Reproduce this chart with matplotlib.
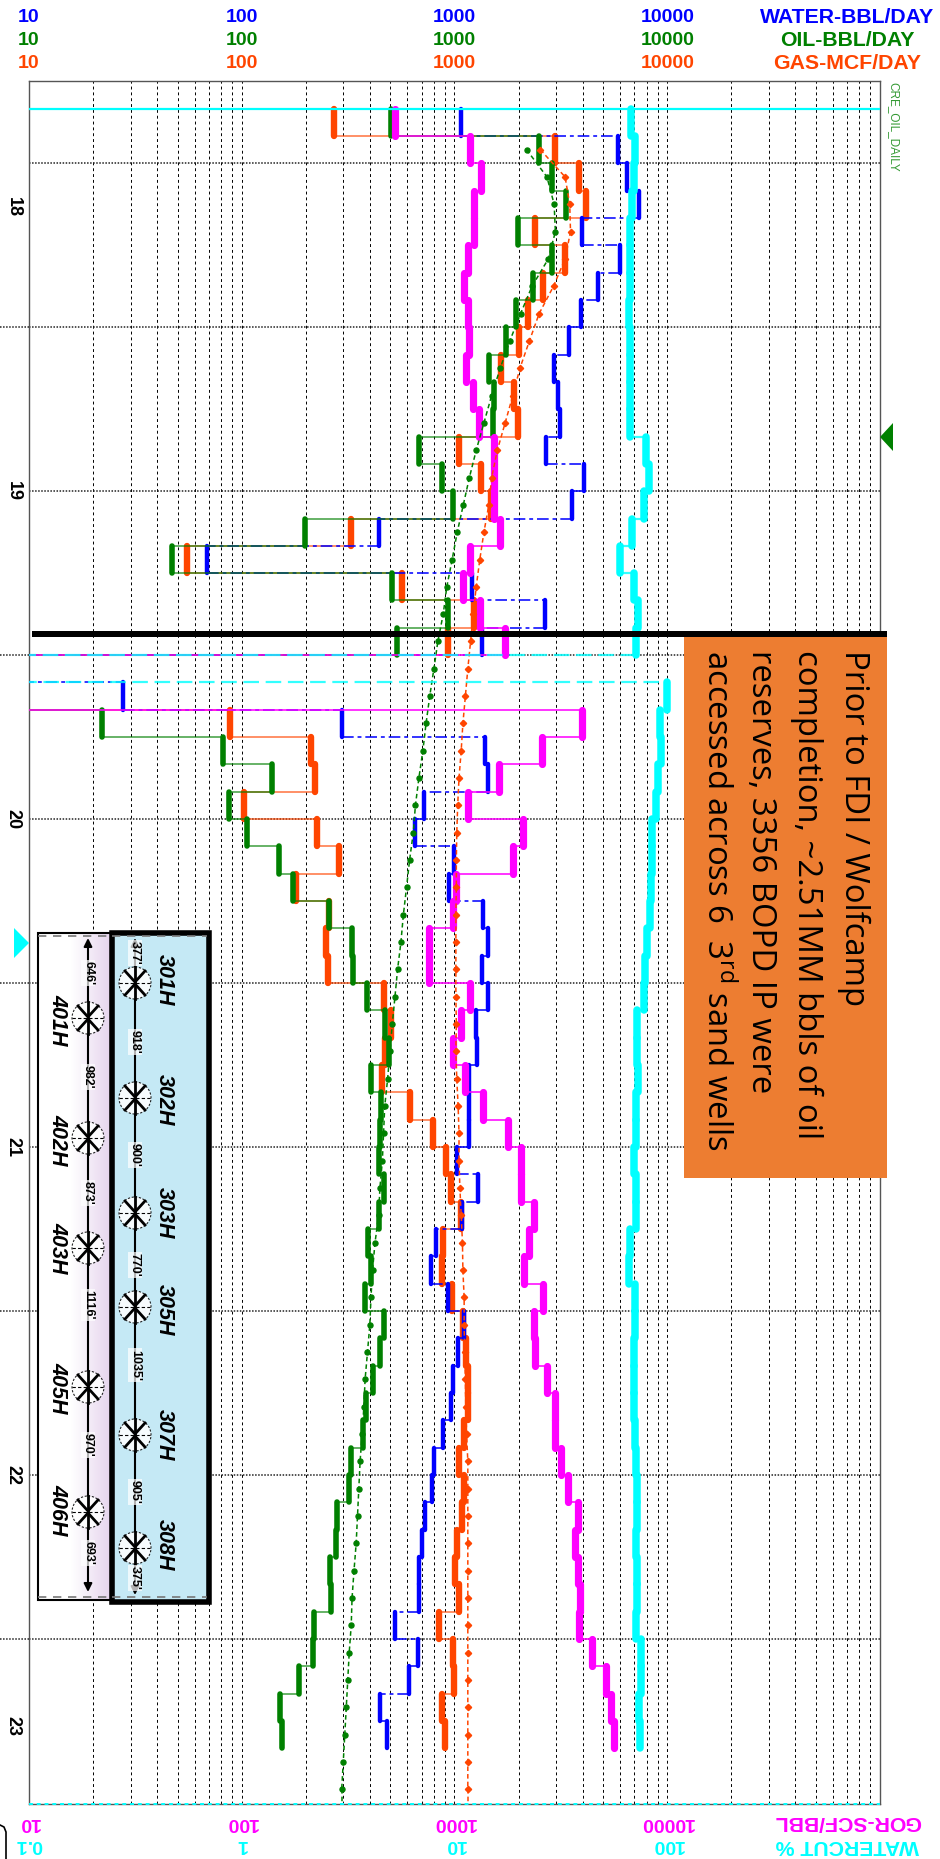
import matplotlib
matplotlib.use('Agg')
import matplotlib.pyplot as plt
import matplotlib.transforms as mtrans
import numpy as np
from matplotlib.patches import Circle, Rectangle

plt.rcParams['font.family'] = ['Liberation Sans', 'DejaVu Sans']
plt.rcParams['mathtext.default'] = 'regular'

# monthly values, index 0 = Nov 2017. 1 means the month is off the left of the scale
oil = [505, 2490, 2880, 3350, 1990, 2860, 2350, 1940, 1740, 1460, 1540, 1520, 680, 875, 980, 198, 47, 510, 930, 535,
       1, 1, 22, 82, 138, 87, 106, 150, 175, 257, 329, 335, 389, 470, 493, 405, 449, 446, 443, 464,
       440, 394, 405, 378, 464, 446, 416, 382, 370, 327, 318, 280, 278, 260, 263, 218, 216, 185, 152, 154]
gas = [272, 2960, 3850, 4150, 2400, 3310, 2620, 2225, 2010, 1650, 1905, 1980, 1045, 1330, 1490, 327, 55, 568, 1230, 937,
       1, 1, 88, 211, 222, 102, 225, 285, 179, 257, 250, 255, 464, 505, 473, 458, 620, 790, 913, 968,
       1075, 880, 870, 975, 1100, 1130, 1155, 1155, 1110, 1045, 1110, 1080, 1025, 1005, 1050, 845, 985, 995, 870, 905]
water = [1075, 5900, 6500, 7330, 3970, 5970, 4730, 3950, 3460, 2940, 3080, 3120, 2690, 4040, 3550, 443, 69, 1215, 2650, 1350,
         1, 27.6, 295, 1390, 1430, 718, 650, 1000, 945, 1360, 1430, 1340, 1440, 1265, 1270, 1175, 1175, 1175, 1025, 1290,
         1090, 820, 775, 930, 1110, 1040, 985, 960, 885, 800, 780, 730, 700, 680, 680, 525, 675, 610, 446, 482]
gor = [525, 1185, 1330, 1230, 1230, 1160, 1110, 1160, 1170, 1130, 1225, 1305, 1535, 1535, 1535, 1640, 1185, 1095, 1315, 1730,
       1, 1, 3970, 2570, 1610, 1160, 2100, 1890, 1020, 985, 755, 755, 1185, 1075, 985, 1115, 1365, 1780, 2045, 2060,
       2360, 2240, 2125, 2600, 2375, 2390, 2720, 2980, 2980, 3160, 3420, 3820, 3700, 3820, 3890, 3850, 4440, 5150, 5420, 5610]
watercut = [67.5, 70.5, 69.5, 68, 66.5, 67, 66.5, 66, 66.5, 67, 66.5, 67, 79.5, 82, 78, 68.5, 60, 69.5, 73, 71,
            0.01, 99.5, 92.5, 93.5, 90, 88.5, 85, 84.5, 83.5, 83, 80, 78.5, 77.5, 72, 72, 73, 71.5, 71.5, 70, 71.5,
            71.5, 67, 66, 70.5, 70.5, 70, 70, 70, 70.5, 71.5, 72, 72, 71.5, 72, 72, 71.5, 75, 75, 74, 74.5]

# forecast curves, one point per month starting Dec 2017
oil_fc = [2180, 2720, 2940, 2980, 2760, 2315, 2045, 1820, 1640, 1495, 1375, 1265, 1175, 1100, 1030, 975, 920, 885, 835, 800,
          765, 735, 710, 680, 655, 640, 615, 595, 575, 560, 540, 525, 510, 497, 485, 470, 464, 458, 446, 440,
          423, 412, 405, 400, 390, 380, 375, 368, 360, 355, 350, 345, 337, 330, 327, 320, 315, 310, 305, 300, 295]
gas_fc = [2530, 3310, 3480, 3510, 3310, 2920, 2500, 2250, 2030, 1880, 1730, 1590, 1495, 1450, 1375, 1315, 1265, 1225, 1190, 1155,
          1125, 1095, 1075, 1050, 1035, 1025, 1020, 1020, 1015, 1015, 1015, 1015, 1020, 1015, 1025, 1040, 1050, 1050, 1060, 1075,
          1090, 1095, 1110, 1110, 1115, 1125, 1130, 1140, 1155, 1155, 1155, 1155, 1155, 1155, 1155, 1155, 1155, 1155, 1155, 1155, 1155]

top_ticks = [10, 100, 1000, 10000]
cut_ticks = ['0.1', '1', '10', '100']
year_labels = ['18', '19', '20', '21', '22', '23']
year_rows = [3.6, 14, 26, 38, 50, 59.2]
note_lines = ['Prior to FDI / Wolfcamp', 'completion, ~2.51MM bbls of oil', 'reserves, 3356 BOPD IP were',
              'accessed across 6  3$^{rd}$ sand wells']

upper_wells = ['301H', '302H', '303H', '305H', '307H', '308H']
upper_spacing = ["377'", "918'", "900'", "770'", "1035'", "905'", "375'"]
lower_wells = ['401H', '402H', '403H', '405H', '406H']
lower_spacing = ["646'", "982'", "873'", "1116'", "970'", "693'"]

BLUE = '#0000ff'
GREEN = '#008000'
ORANGE = '#ff4500'
MAGENTA = '#ff00ff'
CYAN = '#00ffff'

W, H = 940, 1859
fig = plt.figure(figsize=(W / 100, H / 100), dpi=100)
ax = fig.add_axes([29 / W, 1 - 1804 / H, 851 / W, 1723 / H])
ax.set_xscale('log')
ax.set_xlim(10, 100000)
ax.set_ylim(62.04, -1.01)
ax.xaxis.set_major_locator(matplotlib.ticker.LogLocator(base=10))
ax.xaxis.set_minor_locator(matplotlib.ticker.LogLocator(base=10, subs=range(2, 10), numticks=20))
ax.xaxis.set_minor_formatter(matplotlib.ticker.NullFormatter())
half_years = np.arange(2, 60, 6)
ax.set_yticks(half_years)
ax.tick_params(which='both', length=0, labelbottom=False, labelleft=False)
ax.grid(True, which='both', axis='x', color='black', lw=0.7, ls=(0, (3, 3)), zorder=0)
ax.grid(True, which='major', axis='y', color='#222222', lw=1.1, ls=(0, (1, 1)), zorder=0)
ax.set_axisbelow(True)
for s in ax.spines.values():
    s.set_color('#555555')
    s.set_linewidth(1)


def draw_steps(axis, vals, color, width, z, conn_ls='-', conn_alpha=0.6):
    rows = np.arange(len(vals))
    vals = np.array(vals, dtype=float)
    axis.vlines(vals, rows, rows + 1, color=color, lw=width, zorder=z, capstyle='round')
    axis.hlines(rows[1:], vals[:-1], vals[1:], color=color, lw=1.4, ls=conn_ls, alpha=conn_alpha, zorder=z)


draw_steps(ax, gas, ORANGE, 4.6, 3)
draw_steps(ax, water, BLUE, 3.2, 3.2, conn_ls=(0, (6, 2, 2, 2)), conn_alpha=0.8)
draw_steps(ax, oil, GREEN, 4.0, 3.4)
draw_steps(ax, gor, MAGENTA, 5.2, 3.6, conn_alpha=0.8)

fc_rows = np.arange(1, len(oil_fc) + 1) + 0.5
ax.plot(gas_fc, fc_rows, color=ORANGE, lw=1.1, ls=(0, (3, 2)), marker='D', ms=3.2, zorder=4)
ax.plot(oil_fc, fc_rows, color=GREEN, lw=1.1, ls=(0, (3, 2)), marker='o', ms=3.6, zorder=4)
ax.plot([gas_fc[-1], gas_fc[-1]], [fc_rows[-1], 62.04], color=ORANGE, lw=1.1, ls=(0, (3, 2)), zorder=4)
ax.plot([oil_fc[-1], oil_fc[-1]], [fc_rows[-1], 62.04], color=GREEN, lw=1.1, ls=(0, (3, 2)), zorder=4)

# watercut has its own scale, 0.1 to 1000 %
ax2 = ax.twiny()
ax2.set_xscale('log')
ax2.set_xlim(0.1, 1000)
ax2.set_ylim(62.04, -1.01)
ax2.tick_params(which='both', length=0, labeltop=False)
for s in ax2.spines.values():
    s.set_visible(False)
rows = np.arange(len(watercut))
wc = np.array(watercut)
ax2.vlines(wc, rows, rows + 1, color=CYAN, lw=5.4, capstyle='round', zorder=5)
for i in range(1, len(wc)):
    style = (0, (7, 3)) if min(wc[i - 1], wc[i]) < 0.1 else '-'
    ax2.hlines(i, wc[i - 1], wc[i], color=CYAN, lw=1.6, ls=style, alpha=0.8, zorder=5)
ax2.axhline(0, color=CYAN, lw=1.6, zorder=5)
ax2.axhline(62.04, color=CYAN, lw=1.4, ls=(0, (2, 2)), zorder=5, clip_on=False)

# overlay in picture pixels for labels, note box and the well diagram
ov = fig.add_axes([0, 0, 1, 1])
ov.patch.set_visible(False)
ov.axis('off')
x_pos = mtrans.blended_transform_factory(ax.transData, ov.transData)
y_pos = mtrans.blended_transform_factory(ov.transData, ax.transData)

for row_y, col, name in [(17, BLUE, 'WATER-BBL/DAY'), (40, GREEN, 'OIL-BBL/DAY'), (63, ORANGE, 'GAS-MCF/DAY')]:
    for t in top_ticks:
        ov.text(t, row_y, str(t), transform=x_pos, color=col, fontweight='bold', fontsize=14, ha='center', va='center')
    ov.text(847, row_y, name, color=col, fontweight='bold', fontsize=15.3, ha='center', va='center')
for t, c in zip(top_ticks, cut_ticks):
    ov.text(t, 1822, str(t), transform=x_pos, color=MAGENTA, fontweight='bold', fontsize=14, ha='center', va='center', rotation=180)
    ov.text(t, 1845, c, transform=x_pos, color=CYAN, fontweight='bold', fontsize=14, ha='center', va='center', rotation=180)
ov.text(847, 1822, 'GOR-SCF/BBL', color=MAGENTA, fontweight='bold', fontsize=15.3, ha='center', va='center', rotation=180)
ov.text(847, 1845, 'WATERCUT %', color=CYAN, fontweight='bold', fontsize=15.3, ha='center', va='center', rotation=180)

for lab, r in zip(year_labels, year_rows):
    ov.text(13, r, lab, transform=y_pos, fontweight='bold', fontsize=13, rotation=-90, ha='center', va='center')
for r in half_years[1::2]:
    ov.plot([0, 29], [r, r], transform=y_pos, color='#222222', lw=1.1, ls=(0, (1, 1)))

ov.text(893, 82, 'CRE_OIL_DAILY', color=GREEN, fontsize=8.5, rotation=-90, ha='center', va='top', alpha=0.8)
ov.fill([880, 893, 893], [437, 423, 451], color=GREEN, lw=0)
ov.fill([14, 29, 14], [928, 943, 958], color=CYAN, lw=0)

# note box and the heavy line
ov.add_patch(Rectangle((684, 637), 203, 541, color='#ed7d31', lw=0, zorder=2))
ov.add_patch(Rectangle((32, 631), 855, 6, color='black', lw=0, zorder=3))
for x, line in zip([854, 807, 761, 716], note_lines):
    ov.text(x, 650, line, family='Open Sans', fontsize=23.7, color='black', rotation=-90, ha='center', va='top', zorder=4)

# well diagram
grad = np.ones((1, 80, 3))
fade = np.clip((np.linspace(0, 1, 80) - 0.45) / 0.55, 0, 1)[None, :, None]
grad = grad * (1 - fade) + np.array([0.90, 0.83, 0.93]) * fade
ov.imshow(grad, extent=(38, 112, 1600, 933), aspect='auto', zorder=5)
ov.add_patch(Rectangle((38, 933), 74, 667, fill=False, ec='black', lw=1.5, zorder=6))
ov.add_patch(Rectangle((112, 933), 97, 669, fc='#c5e9f5', ec='black', lw=4, zorder=6))
for x0, x1 in [(38, 112), (112, 207)]:
    for yy in (936, 1597):
        ov.plot([x0, x1], [yy, yy], color='#777777', lw=1.2, ls=(0, (5, 4)), zorder=7)


def draw_row(x, y0, y1, well_ys, spacing_ys, names, name_ys, gaps, name_x):
    ov.annotate('', xy=(x, y0), xytext=(x, y1), zorder=7,
                arrowprops=dict(arrowstyle='<|-|>', color='black', lw=1.5, shrinkA=0, shrinkB=0, mutation_scale=12))
    for wy in well_ys:
        ov.add_patch(Circle((x, wy), 16, fc='white', ec='black', lw=0.8, ls=(0, (2, 1.5)), alpha=0.85, zorder=8))
        ov.plot([x - 16, x + 16], [wy, wy], color='black', lw=0.8, ls=(0, (3, 2)), zorder=9)
        ov.plot([x, x], [wy - 16, wy + 16], color='black', lw=2, zorder=9)
        ov.plot([x - 10, x, x + 10], [wy - 12, wy - 1, wy - 12], color='black', lw=2, zorder=9)
        ov.plot([x - 10, x, x + 10], [wy + 12, wy + 1, wy + 12], color='black', lw=2, zorder=9)
    for sy, g in zip(spacing_ys, gaps):
        ov.text(x, sy, g, fontsize=9, fontweight='bold', rotation=-90, ha='center', va='center', zorder=10,
                bbox=dict(fc='white', ec='none', pad=0.8, alpha=0.7))
    for ny, n in zip(name_ys, names):
        ov.text(name_x, ny, n, fontsize=15.5, fontweight='bold', fontstyle='italic', rotation=-90, ha='center', va='center', zorder=10)


draw_row(135, 938, 1595, [983, 1098, 1213, 1307, 1435, 1548], [953, 1042, 1155, 1265, 1365, 1492, 1578],
         upper_wells, [980, 1100, 1213, 1310, 1435, 1545], upper_spacing, 164)
draw_row(88, 938, 1592, [1018, 1138, 1248, 1387, 1512], [973, 1077, 1193, 1305, 1445, 1553],
         lower_wells, [1020, 1140, 1248, 1388, 1510], lower_spacing, 58)

# scrap of a rounded corner at the bottom edge of the slide
ov.plot([0, 4, 6, 6], [1825, 1827, 1832, 1859], color='black', lw=1.2)

ov.set_xlim(0, W)
ov.set_ylim(H, 0)

fig.savefig('out.png', dpi=100)
